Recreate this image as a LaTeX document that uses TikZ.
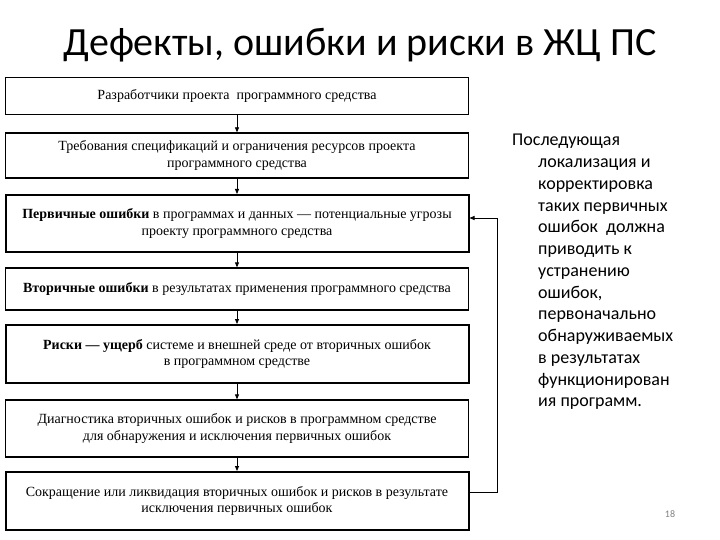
\documentclass[tikz,border=0pt]{standalone}
\usepackage{fontspec}
\setmainfont{Liberation Serif}
\newfontfamily\calfont{Carlito}
\usetikzlibrary{arrows.meta}
\begin{document}
\begin{tikzpicture}[x=1pt,y=-1pt,
  box/.style={draw=black, line width=1.3pt, minimum width=463pt, align=center, inner sep=0pt,
    font=\fontsize{14}{16.5}\selectfont},
  thickbox/.style={box, line width=2pt},
  conn/.style={draw=black, line width=0.8pt, -{Triangle[length=5pt,width=4pt]}}]
\useasboundingbox (0,0) rectangle (720,540);
\node[font=\calfont\fontsize{40}{44}\selectfont, anchor=center] (title) at (360,45) {Дефекты, ошибки и риски в ЖЦ ПС};
\node[box, minimum height=37pt] (b1) at (237,96) {Разработчики проекта\ \ программного средства};
\node[box, minimum height=45pt] (b2) at (237,155.5) {Требования спецификаций и ограничения ресурсов проекта\\программного средства};
\node[thickbox, minimum height=57pt] (b3) at (237,223.5) {\textbf{Первичные ошибки} в программах и данных --- потенциальные угрозы\\проекту программного средства};
\node[box, minimum height=42pt] (b4) at (237,289) {\textbf{Вторичные ошибки} в результатах применения программного средства};
\node[thickbox, minimum height=58pt] (b5) at (237,354) {\textbf{Риски --- ущерб} системе и внешней среде от вторичных ошибок\\в программном средстве};
\node[box, minimum height=57pt] (b6) at (237,428.5) {Диагностика вторичных ошибок и рисков в программном средстве\\для обнаружения и исключения первичных ошибок};
\node[thickbox, minimum height=58pt] (b7) at (237,501) {Сокращение или ликвидация вторичных ошибок и рисков в результате\\исключения первичных ошибок};
\draw[conn] (b1) -- (b2);
\draw[conn] (b2) -- (b3);
\draw[conn] (b3) -- (b4);
\draw[conn] (b4) -- (b5);
\draw[conn] (b5) -- (b6);
\draw[conn] (b6) -- (b7);
\coordinate (fb1) at (497,492);
\coordinate (fb2) at (497,218);
\draw[conn] (b7.east |- fb1) -- (fb1) -- (fb2) -- (b3.east |- fb2);
\node[font=\calfont\fontsize{18}{21.75}\selectfont, anchor=north west, align=left, inner sep=0pt] (side) at (512,134)
{Последующая\\
\hspace*{26pt}локализация и\\
\hspace*{26pt}корректировка\\
\hspace*{26pt}таких первичных\\
\hspace*{26pt}ошибок\ \ должна\\
\hspace*{26pt}приводить к\\
\hspace*{26pt}устранению\\
\hspace*{26pt}ошибок,\\
\hspace*{26pt}первоначально\\
\hspace*{26pt}обнаруживаемых\\
\hspace*{26pt}в результатах\\
\hspace*{26pt}функционирован\\
\hspace*{26pt}ия программ.};
\node[font=\calfont\fontsize{10}{12}\selectfont, text=gray] (pg) at (670,514) {18};
\end{tikzpicture}
\end{document}
